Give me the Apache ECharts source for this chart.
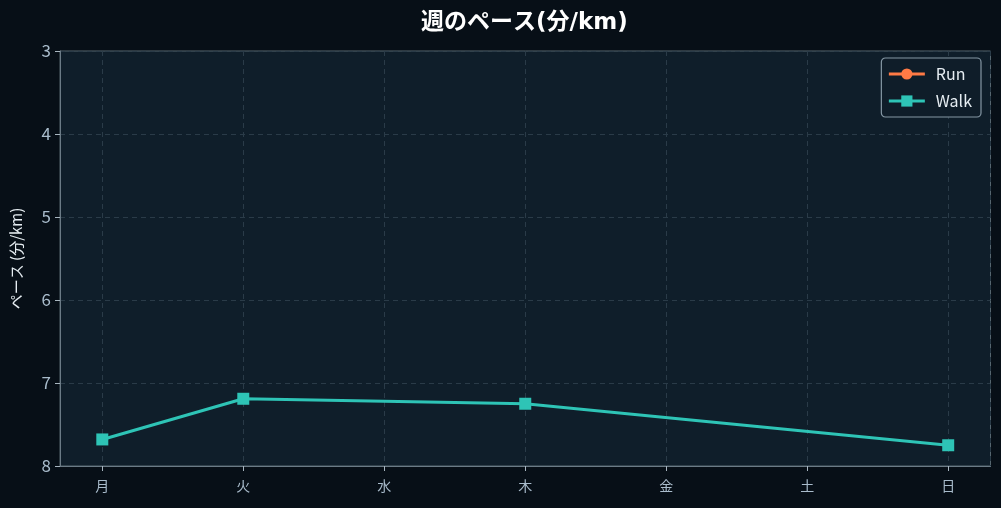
<!DOCTYPE html>
<html>
<head>
    <meta charset="UTF-8">
    <title>週のペース</title>
    <script src="https://cdn.jsdelivr.net/npm/echarts@6/dist/echarts.min.js"></script>
    <style>
        html, body { margin: 0; padding: 0; background: #070f17; }
    </style>
</head>
<body>
    <div id="chart" style="width:1001px; height:508px;"></div>
    <script>
        // data
        var days = ['月', '火', '水', '木', '金', '土', '日'];
        var runPace = [null, null, null, null, null, null, null];
        var walkPace = [7.68, 7.19, null, 7.25, null, null, 7.75];
        var paceTicks = [3, 4, 5, 6, 7, 8];

        var font = '"Noto Sans CJK JP", "Noto Sans", sans-serif';
        var titleFont = '"DejaVu Sans", "Noto Sans CJK JP", sans-serif';

        function toPoints(arr) {
            return arr.map(function (v, i) { return [i, v]; });
        }

        var chart = echarts.init(document.getElementById('chart'), null, {renderer: 'canvas'});

        chart.setOption({
            backgroundColor: '#070f17',
            textStyle: {fontFamily: font},
            title: {
                text: '週のペース(分/km)',
                left: 416,
                top: 7,
                textStyle: {color: '#ffffff', fontSize: 23, fontWeight: 'bold', fontFamily: titleFont}
            },
            legend: {
                right: 20,
                top: 58,
                orient: 'vertical',
                itemWidth: 36,
                itemHeight: 14,
                itemGap: 11,
                padding: [8, 9, 8, 6],
                backgroundColor: '#0f1d29',
                borderColor: '#8597a4',
                borderWidth: 1.2,
                borderRadius: 4,
                lineStyle: {width: 3},
                textStyle: {color: '#e6edf2', fontSize: 16, fontFamily: font, padding: [0, 0, 0, 6]},
                data: ['Run', 'Walk']
            },
            grid: {
                left: 60,
                right: 10.5,
                top: 51,
                bottom: 42,
                show: true,
                backgroundColor: '#0f1e2a',
                borderColor: '#56666f',
                borderWidth: 1
            },
            xAxis: {
                type: 'value',
                min: -0.3,
                max: 6.3,
                minInterval: 1,
                maxInterval: 1,
                splitNumber: 7,
                axisLine: {show: true, onZero: false, lineStyle: {color: '#6b7b86'}},
                axisTick: {show: true, length: 5, lineStyle: {color: '#a8b6c0'}},
                axisLabel: {
                    color: '#a9bccc',
                    fontSize: 14,
                    margin: 13,
                    fontFamily: font,
                    showMinLabel: false,
                    showMaxLabel: false,
                    formatter: function (v) {
                        return Number.isInteger(v) ? days[v] : '';
                    }
                },
                splitLine: {show: true, lineStyle: {color: '#2a3b48', type: [5, 4], width: 1}}
            },
            yAxis: {
                type: 'value',
                inverse: true,
                min: paceTicks[0],
                max: paceTicks[paceTicks.length - 1],
                interval: 1,
                name: 'ペース (分/km)',
                nameLocation: 'middle',
                nameGap: 36,
                nameTextStyle: {color: '#e6edf2', fontSize: 15, fontFamily: font},
                axisLine: {show: true, onZero: false, lineStyle: {color: '#6b7b86'}},
                axisTick: {show: true, length: 5, lineStyle: {color: '#a8b6c0'}},
                axisLabel: {color: '#a9bccc', fontSize: 17, margin: 9, fontFamily: font},
                splitLine: {show: true, lineStyle: {color: '#2a3b48', type: [5, 4], width: 1}}
            },
            series: [
                {
                    name: 'Run',
                    type: 'line',
                    data: toPoints(runPace),
                    connectNulls: true,
                    symbol: 'circle',
                    symbolSize: 12,
                    itemStyle: {color: '#ff7a45'},
                    lineStyle: {color: '#ff7a45', width: 3}
                },
                {
                    name: 'Walk',
                    type: 'line',
                    data: toPoints(walkPace),
                    connectNulls: true,
                    symbol: 'rect',
                    symbolSize: 12,
                    itemStyle: {color: '#2ec4b6'},
                    lineStyle: {color: '#2ec4b6', width: 3}
                }
            ]
        });
    </script>
</body>
</html>
